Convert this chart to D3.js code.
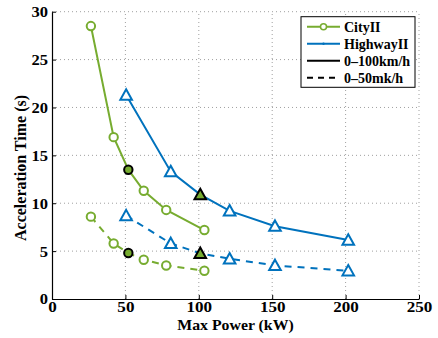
<!DOCTYPE html>
<html><head><meta charset="utf-8">
<script src="https://cdn.jsdelivr.net/npm/d3@7"></script>
<style>body{margin:0;background:#fff}svg{display:block}text{font-family:"Liberation Serif","DejaVu Serif",serif;font-weight:bold}</style>
</head><body>
<script>
const xTicks=[0,50,100,150,200,250];
const yTicks=[0,5,10,15,20,25,30];
const cityPower=[26.5,42,52,62.5,77.8,103.8];
const city100=[28.5,16.9,13.5,11.3,9.3,7.2];
const city50=[8.6,5.8,4.8,4.1,3.5,2.95];
const hwyPower=[50.5,80.9,101,121,151.9,201.8];
const hwy100=[21.3,13.3,10.9,9.2,7.6,6.15];
const hwy50=[8.7,5.8,4.77,4.2,3.5,2.95];
const city100Highlight=[2];
const city50Highlight=[2];
const hwy100Highlight=[2];
const hwy50Highlight=[2];
const legendLabels=["CityII","HighwayII","0\u2013100km/h","0\u201350mk/h"];
const green="#77AC30", blue="#0072BD";

const W=438,H=338,m={l:52,r:19,t:11.7,b:39};
const svg=d3.select("body").append("svg").attr("width",W).attr("height",H);
const x=d3.scaleLinear().domain([0,250]).range([m.l,W-m.r]);
const y=d3.scaleLinear().domain([0,30]).range([H-m.b,m.t]);

// grid
const g=svg.append("g");
g.selectAll(".gx").data(xTicks.slice(1)).enter().append("line")
 .attr("x1",d=>x(d)).attr("x2",d=>x(d)).attr("y1",y(0)).attr("y2",y(30))
 .attr("stroke","#888").attr("stroke-width",0.8).attr("stroke-dasharray","1,3");
g.selectAll(".gy").data(yTicks.slice(1)).enter().append("line")
 .attr("y1",d=>y(d)).attr("y2",d=>y(d)).attr("x1",x(0)).attr("x2",x(250))
 .attr("stroke","#888").attr("stroke-width",0.8).attr("stroke-dasharray","1,3");

// axes
const xa=svg.append("g").attr("transform",`translate(0,${y(0)})`)
 .call(d3.axisBottom(x).tickValues(xTicks).tickSizeInner(-4).tickSizeOuter(0).tickPadding(3));
const ya=svg.append("g").attr("transform",`translate(${x(0)},0)`)
 .call(d3.axisLeft(y).tickValues(yTicks).tickSizeInner(-4).tickSizeOuter(0).tickPadding(3.5));
[xa,ya].forEach(a=>{a.select(".domain").attr("stroke","#000").attr("stroke-width",1.2);
 a.selectAll(".tick line").attr("stroke","#000");
 a.selectAll("text").attr("font-size",14).attr("fill","#000").attr("font-family","Liberation Serif").attr("font-weight","bold");});
xa.selectAll("text").attr("dy","0.71em").attr("transform","scale(1.22,1)");
ya.selectAll("text").attr("dy","0.35em").attr("transform","scale(1.18,1)");

svg.append("text").attr("transform",`translate(${(x(0)+x(250))/2},330) scale(1.13,1)`).attr("text-anchor","middle")
 .attr("font-size",14).text("Max Power (kW)");
svg.append("text").attr("transform",`translate(26,168) rotate(-90)`).attr("text-anchor","middle")
 .attr("font-size",16).text("Acceleration Time (s)");

const line=d3.line().x(d=>x(d[0])).y(d=>y(d[1]));
function series(px,py,color,dash,marker,hl){
 const pts=px.map((p,i)=>[p,py[i]]);
 svg.append("path").datum(pts).attr("d",line).attr("fill","none").attr("stroke",color)
  .attr("stroke-width",2).attr("stroke-dasharray",dash?"7,6":null);
 pts.forEach((p,i)=>{
  const h=hl.includes(i);
  const stroke=h?"#000":color, fill=h?green:"#fff";
  if(marker==="o"){
   svg.append("circle").attr("cx",x(p[0])).attr("cy",y(p[1])).attr("r",4.2)
    .attr("fill",fill).attr("stroke",stroke).attr("stroke-width",2);
  } else {
   const cx=x(p[0]),cy=y(p[1]),s=5.8;
   svg.append("path").attr("d",`M${cx},${cy-s}L${cx+s},${cy+s*0.8}L${cx-s},${cy+s*0.8}Z`)
    .attr("fill",fill).attr("stroke",stroke).attr("stroke-width",2).attr("stroke-linejoin","miter");
  }
 });
}
series(cityPower,city100,green,false,"o",city100Highlight);
series(cityPower,city50,green,true,"o",city50Highlight);
series(hwyPower,hwy100,blue,false,"^",hwy100Highlight);
series(hwyPower,hwy50,blue,true,"^",hwy50Highlight);

// legend
const lx=301,ly=16.7,lw=114,lh=70.6;
const L=svg.append("g");
L.append("rect").attr("x",lx).attr("y",ly).attr("width",lw).attr("height",lh)
 .attr("fill","#fff").attr("stroke","#000").attr("stroke-width",1);
const rowY=i=>ly+10+i*17;
const styles=[{c:green,d:null,m:"o"},{c:blue,d:null,m:"."},{c:"#000",d:null,m:null},{c:"#000",d:"6,5",m:null}];
legendLabels.forEach((t,i)=>{
 const s=styles[i], yy=rowY(i);
 L.append("line").attr("x1",lx+6).attr("x2",lx+39).attr("y1",yy).attr("y2",yy)
  .attr("stroke",s.c).attr("stroke-width",2).attr("stroke-dasharray",s.d);
 if(s.m==="o") L.append("circle").attr("cx",lx+22.5).attr("cy",yy).attr("r",3).attr("fill","#fff").attr("stroke",s.c).attr("stroke-width",1.5);
 if(s.m===".") L.append("circle").attr("cx",lx+22.5).attr("cy",yy).attr("r",1.2).attr("fill",s.c);
 L.append("text").attr("x",lx+43).attr("y",yy).attr("dy","0.35em").attr("font-size",14).text(t);
});
</script>
</body></html>
